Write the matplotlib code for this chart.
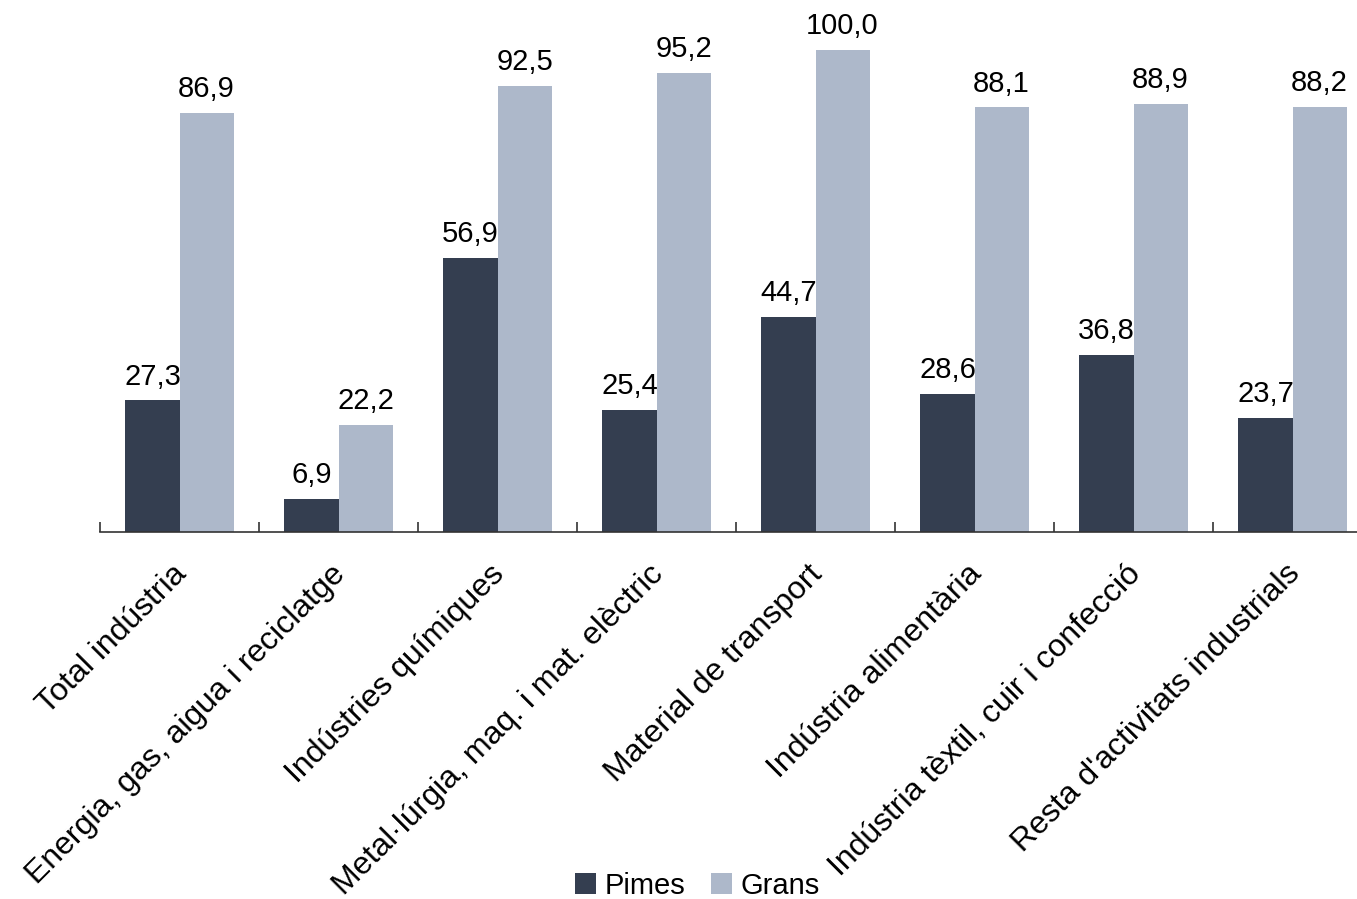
import matplotlib.pyplot as plt
import numpy as np

plt.rcParams["font.family"] = ["Liberation Sans", "DejaVu Sans"]

# Categories and values
categories = [
    "Total indústria",
    "Energia, gas, aigua i reciclatge",
    "Indústries químiques",
    "Metal·lúrgia, maq. i mat. elèctric",
    "Material de transport",
    "Indústria alimentària",
    "Indústria tèxtil, cuir i confecció",
    "Resta d'activitats industrials",
]
pimes = [27.3, 6.9, 56.9, 25.4, 44.7, 28.6, 36.8, 23.7]
grans = [86.9, 22.2, 92.5, 95.2, 100.0, 88.1, 88.9, 88.2]

dark = "#343e50"
light = "#adb8ca"

fig = plt.figure(figsize=(13.57, 8.99), dpi=100)
ax = fig.add_axes([100 / 1357, 367 / 899, 1272 / 1357, 482 / 899])

x = np.arange(len(categories))
w = 0.34
b1 = ax.bar(x - w / 2, pimes, w, color=dark, label="Pimes")
b2 = ax.bar(x + w / 2, grans, w, color=light, label="Grans")

def fmt(v):
    return f"{v:.1f}".replace(".", ",")

for bars, vals in [(b1, pimes), (b2, grans)]:
    for rect, v in zip(bars, vals):
        ax.annotate(fmt(v), (rect.get_x() + rect.get_width() / 2, v),
                    xytext=(0, 7), textcoords="offset points",
                    ha="center", va="bottom", fontsize=21, clip_on=False)

ax.set_xlim(-0.5, len(categories) - 0.5)
ax.set_ylim(0, 100)

for side in ["top", "right", "left"]:
    ax.spines[side].set_visible(False)
ax.spines["bottom"].set_color("#333333")
ax.spines["bottom"].set_linewidth(1.2)
ax.set_yticks([])

# category boundary ticks pointing up
ax.set_xticks(np.arange(len(categories) + 1) - 0.5)
ax.set_xticklabels([])
ax.tick_params(axis="x", direction="in", length=7, width=1.2, color="#333333")

for i, lab in enumerate(categories):
    ax.annotate(lab, (i, 0), xytext=(2, -27), textcoords="offset points",
                rotation=45, rotation_mode="anchor", ha="right", va="center",
                fontsize=23, annotation_clip=False)

fig.legend(loc="lower center", bbox_to_anchor=(0.514, -0.03), ncol=2,
           frameon=False, fontsize=21, handlelength=0.7, handleheight=0.7,
           handletextpad=0.3, columnspacing=0.9)

fig.savefig("out.png", dpi=100)
